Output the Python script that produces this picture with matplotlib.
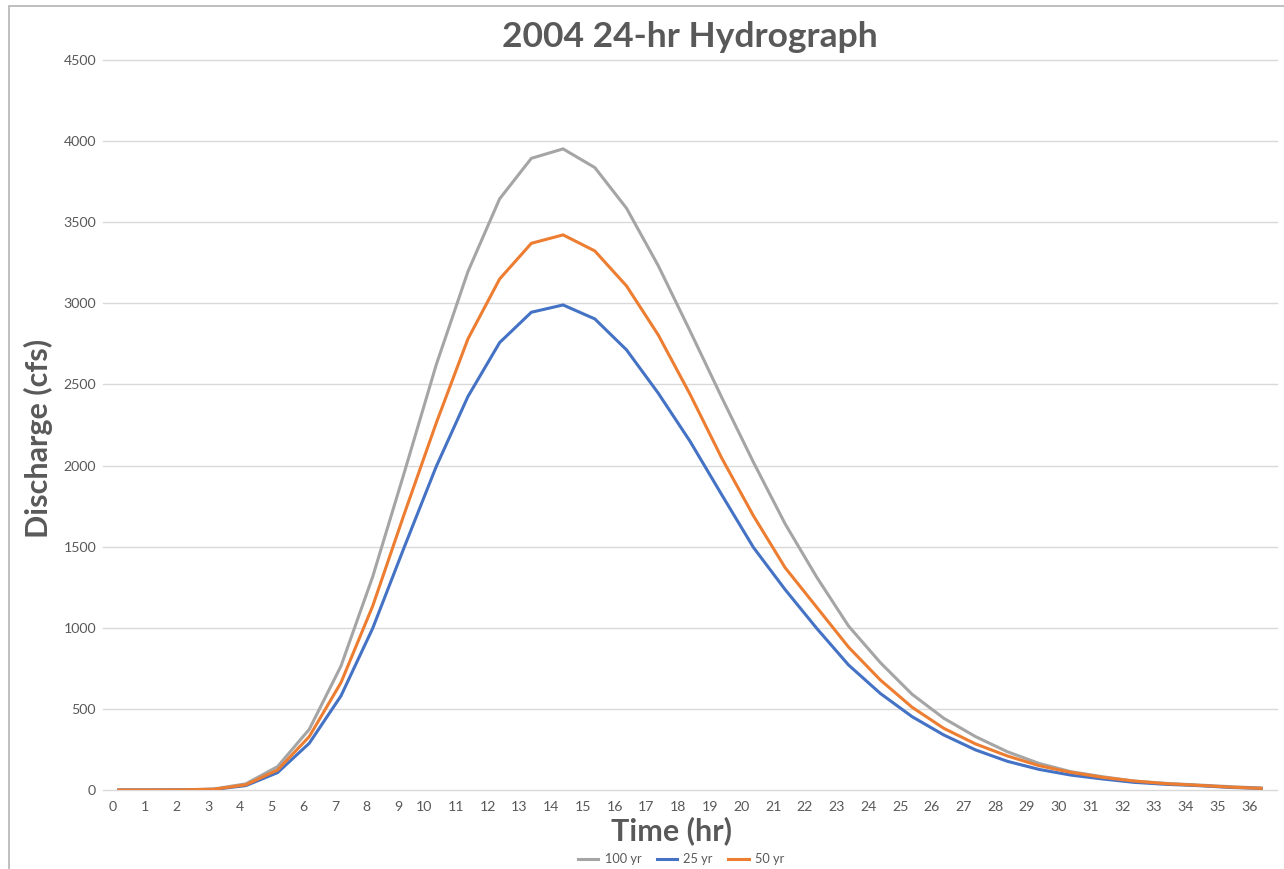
import matplotlib.pyplot as plt
from matplotlib.patches import Rectangle
from matplotlib.transforms import ScaledTranslation

# hours since start of storm (one point per hour)
hours = list(range(37))

# discharge in cfs
q100 = [0, 0, 1, 6, 38, 144, 374, 764, 1315, 1960, 2620, 3195, 3644, 3894, 3952,
        3837, 3586, 3232, 2830, 2420, 2020, 1640, 1310, 1010, 785, 590, 442, 329,
        236, 164, 113, 82, 55, 41, 31, 21, 12]
q25 = [0, 0, 1, 4, 27, 107, 288, 580, 997, 1500, 1993, 2425, 2758, 2945, 2990,
       2904, 2713, 2446, 2150, 1820, 1495, 1235, 995, 770, 595, 452, 339, 247,
       177, 127, 92, 68, 47, 35, 27, 16, 10]
q50 = [0, 0, 1, 5, 32, 123, 329, 662, 1134, 1705, 2261, 2780, 3150, 3370, 3422,
       3323, 3107, 2805, 2440, 2046, 1690, 1370, 1125, 880, 678, 510, 380, 284,
       210, 150, 109, 78, 55, 39, 29, 18, 10]

series = [('100 yr', q100, '#A5A5A5'), ('25 yr', q25, '#4472C4'), ('50 yr', q50, '#ED7D31')]

plt.rcParams['font.family'] = ['Lato', 'DejaVu Sans']
txt = '#595959'
W, H = 1284, 869

fig = plt.figure(figsize=(W / 100, H / 100), dpi=100)
ax = fig.add_axes([103 / W, 79 / H, 1174 / W, 730 / H])

for name, q, c in series:
    ax.plot(hours, q, color=c, lw=2.2, label=name, solid_joinstyle='miter')

ax.set_xlim(-0.5, 36.5)
ax.set_ylim(0, 4500)
ax.set_yticks(range(0, 4501, 500))
ax.set_xticks(hours)
ax.grid(axis='y', color='#D9D9D9', lw=1)
ax.set_axisbelow(True)
for g in ax.get_ygridlines():
    g.set_clip_on(False)
for s in ax.spines.values():
    s.set_visible(False)
ax.tick_params(length=0, labelsize=10.2, labelcolor=txt)
ax.tick_params(axis='y', pad=5)
ax.tick_params(axis='x', pad=8)

# excel draws the hour labels a little left of the points
for lab in ax.get_xticklabels():
    dx = -6 if len(lab.get_text()) == 1 else -12
    lab.set_transform(lab.get_transform() + ScaledTranslation(dx / 100, 0, fig.dpi_scale_trans))

fig.text(690 / W, 1 - 37 / H, '2004 24-hr Hydrograph', ha='center', va='center',
         fontsize=25.5, fontweight='bold', color=txt)
fig.text(38 / W, 1 - 438 / H, 'Discharge (cfs)', rotation=90, ha='center', va='center',
         fontsize=22, fontweight='bold', color=txt)
fig.text(672 / W, 1 - 831 / H, 'Time (hr)', ha='center', va='center',
         fontsize=22, fontweight='bold', color=txt)

fig.legend(loc='center', bbox_to_anchor=(681 / W, 1 - 859 / H), ncol=3, frameon=False,
           fontsize=9.2, handlelength=1.6, columnspacing=1.2, handletextpad=0.5,
           labelcolor=txt, borderpad=0)

# chart border (only top and left edges show in the picture)
fig.add_artist(Rectangle((9 / W, -0.1), 2, 1.1 - 6 / H, transform=fig.transFigure,
                         fill=False, edgecolor='#B4B4B4', lw=1.2))

fig.savefig('out.png', dpi=100)
